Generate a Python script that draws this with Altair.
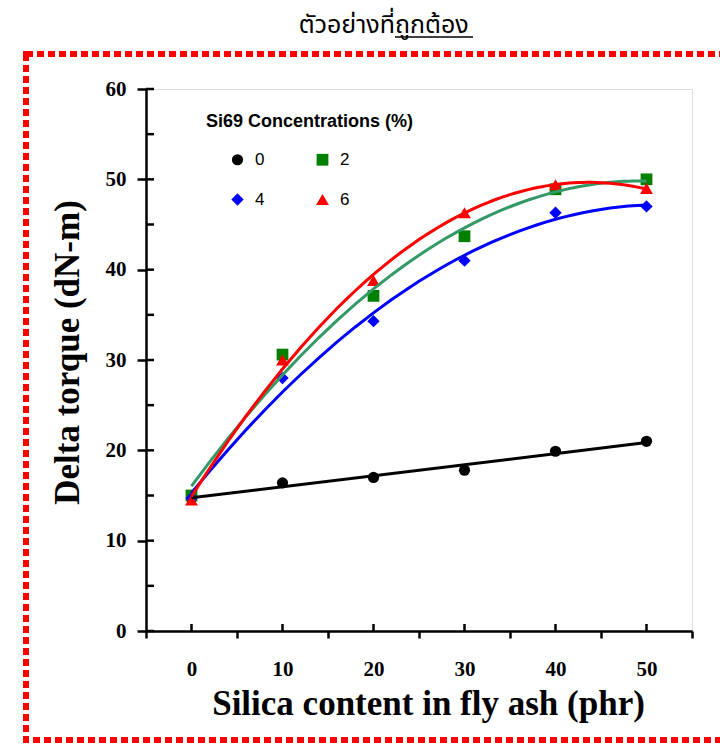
import altair as alt
import pandas as pd

# ---- data ----
SILICA = [0, 10, 20, 30, 40, 50]
SERIES = ["0", "2", "4", "6"]
TORQUE_0 = [14.7, 16.4, 17.0, 17.8, 19.9, 21.0]
TORQUE_2 = [15.0, 30.6, 37.1, 43.7, 48.9, 50.0]
TORQUE_4 = [14.7, 28.0, 34.3, 41.0, 46.3, 47.0]
TORQUE_6 = [14.5, 30.0, 38.8, 46.3, 49.4, 49.0]

MARKER_COLORS = ["#000000", "#008000", "#0000ff", "#ff0000"]
CURVE_COLORS = ["#000000", "#339966", "#0000ff", "#ff0000"]
SHAPES = ["circle", "square", "diamond", "triangle-up"]
MARKER_SIZES = [125, 165, 210, 150]

X_AXIS_VALUES = [-5, 0, 5, 10, 15, 20, 25, 30, 35, 40, 45, 50, 55]
X_INNER_TICKS = [0, 10, 20, 30, 40, 50]
Y_AXIS_VALUES = [0, 10, 20, 30, 40, 50, 60]
Y_INNER_TICKS = [0, 5, 10, 15, 20, 25, 30, 35, 40, 45, 50, 55, 60]

TITLE_PART1 = "ตัวอย่างที่"
TITLE_PART2 = "ถูกต้อง"
X_TITLE = "Silica content in fly ash (phr)"
Y_TITLE = "Delta torque (dN-m)"
LEGEND_TITLE = "Si69 Concentrations (%)"

W, H = 546, 542

rows = []
for s, vals in zip(SERIES, [TORQUE_0, TORQUE_2, TORQUE_4, TORQUE_6]):
    for x, y in zip(SILICA, vals):
        rows.append({"silica": x, "torque": y, "series": s})
df = pd.DataFrame(rows)

xscale = alt.Scale(domain=[-5, 55], nice=False, zero=False)
yscale = alt.Scale(domain=[0, 60], nice=False, zero=False)

serif = "Liberation Serif"
sans = "Liberation Sans"

x_axis = alt.Axis(
    values=X_AXIS_VALUES,
    labelExpr="(datum.value % 10 === 0 && datum.value >= 0 && datum.value <= 50) ? datum.label : ''",
    tickOpacity={"condition": {"test": "datum.value % 10 === 0 && datum.value >= 0 && datum.value <= 50", "value": 0}, "value": 1},
    tickSize=7, tickWidth=2.5, tickColor="black",
    domainColor="black", domainWidth=2.5,
    labelFont=serif, labelFontSize=21, labelFontWeight="bold", labelColor="black",
    labelPadding=20, labelFlush=False, labelOverlap=False,
    title=X_TITLE, titleFont=serif, titleFontSize=35, titleFontWeight="bold",
    titleColor="black", titlePadding=7, titleX=282, grid=False,
)
y_axis = alt.Axis(
    values=Y_AXIS_VALUES,
    tickSize=9, tickWidth=2.5, tickColor="black",
    domainColor="black", domainWidth=2.5,
    labelFont=serif, labelFontSize=21, labelFontWeight="bold", labelColor="black",
    labelPadding=11, labelFlush=False, labelOverlap=False,
    title=Y_TITLE, titleFont=serif, titleFontSize=35, titleFontWeight="bold",
    titleColor="black", titlePadding=20, titleY=263, grid=False,
)

base = alt.Chart(df)
stroke_scale = alt.Scale(domain=SERIES, range=CURVE_COLORS)

leg = alt.Legend(
    orient="none", legendX=60, legendY=24, columns=2, direction="horizontal",
    title=LEGEND_TITLE, titleLimit=400,
    titleFont=sans, titleFontSize=18, titleFontWeight="bold", titleColor="black",
    labelFont=sans, labelFontSize=17, labelColor="black",
    symbolSize=80, symbolOffset=23, labelOffset=9, columnPadding=26,
    rowPadding=22, titlePadding=20, symbolStrokeWidth=0, padding=0,
)

points = base.transform_calculate(sz="datum.series").mark_point(filled=True, opacity=1).encode(
    x=alt.X("silica:Q", scale=xscale, axis=x_axis),
    y=alt.Y("torque:Q", scale=yscale, axis=y_axis),
    color=alt.Color("series:N", scale=alt.Scale(domain=SERIES, range=MARKER_COLORS), legend=leg),
    shape=alt.Shape("series:N", scale=alt.Scale(domain=SERIES, range=SHAPES), legend=leg),
    size=alt.Size("sz:N", scale=alt.Scale(domain=SERIES, range=MARKER_SIZES), legend=None),
)

lin = base.transform_filter(alt.datum.series == "0").transform_regression(
    "silica", "torque", groupby=["series"], method="linear"
).transform_calculate(curve="datum.series").mark_line(strokeWidth=3).encode(
    x=alt.X("silica:Q", scale=xscale),
    y=alt.Y("torque:Q", scale=yscale),
    stroke=alt.Stroke("curve:N", scale=stroke_scale, legend=None),
)

poly = base.transform_filter(alt.datum.series != "0").transform_regression(
    "silica", "torque", groupby=["series"], method="poly", order=2
).transform_calculate(curve="datum.series").mark_line(strokeWidth=3).encode(
    x=alt.X("silica:Q", scale=xscale),
    y=alt.Y("torque:Q", scale=yscale),
    stroke=alt.Stroke("curve:N", scale=stroke_scale, legend=None),
)

xt = alt.Chart(pd.DataFrame({"silica": X_INNER_TICKS})).mark_rule(color="black", strokeWidth=2.5).encode(
    x=alt.X("silica:Q", scale=xscale), y=alt.value(H), y2=alt.value(H - 7)
)
yt = alt.Chart(pd.DataFrame({"torque": Y_INNER_TICKS})).mark_rule(color="black", strokeWidth=2.5).encode(
    y=alt.Y("torque:Q", scale=yscale), x=alt.value(0), x2=alt.value(8)
)

thai_font = "Tahoma, 'Noto Sans Thai', 'Noto Serif Thai', sans-serif"
decor_df = pd.DataFrame({"p1": [TITLE_PART1], "p2": [TITLE_PART2]})
title1 = alt.Chart(decor_df).mark_text(
    font=thai_font, fontSize=25, color="black", align="right", baseline="alphabetic",
).encode(text="p1:N", x=alt.value(249), y=alt.value(-56))
title2 = alt.Chart(decor_df).mark_text(
    font=thai_font, fontSize=25, color="black", align="left", baseline="alphabetic",
).encode(text="p2:N", x=alt.value(249), y=alt.value(-56))
underline = alt.Chart(decor_df).mark_rule(color="black", strokeWidth=1.5).encode(
    x=alt.value(249), x2=alt.value(327), y=alt.value(-52)
)
border = alt.Chart(decor_df).mark_rect(
    fill="transparent", stroke="#ff0000", strokeWidth=6, strokeDash=[7, 4]
).encode(x=alt.value(-120), x2=alt.value(600), y=alt.value(-35), y2=alt.value(651))

chart = alt.layer(
    border, title1, title2, underline, points, lin, poly, xt, yt
).properties(
    width=W, height=H,
    autosize=alt.AutoSizeParams(type="none"),
    padding={"left": 146, "top": 89, "right": 28, "bottom": 115},
).configure_view(stroke="black", strokeWidth=2.5).configure(background="white")

chart.save("out.html", embed_options={"renderer": "svg", "actions": False})
